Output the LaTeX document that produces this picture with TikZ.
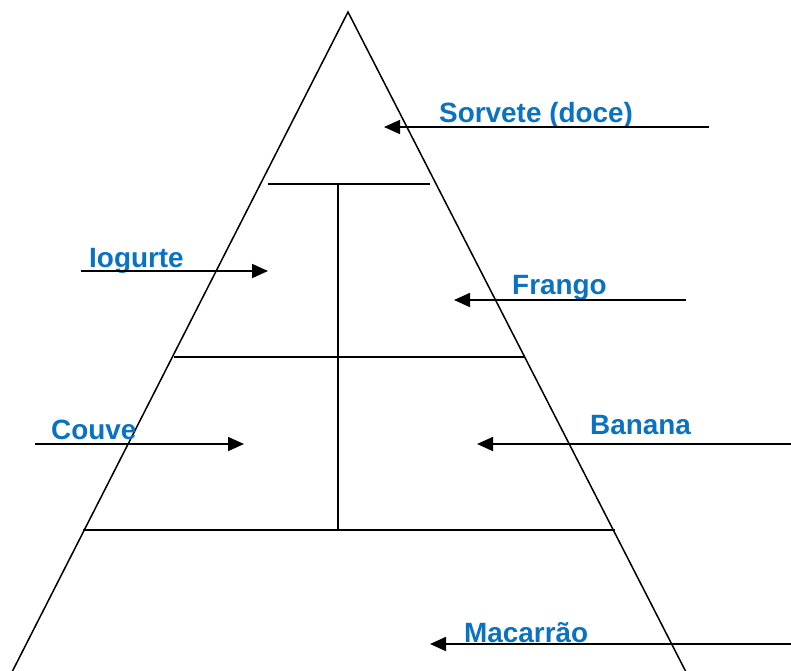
\documentclass[tikz,border=0pt]{standalone}
\usepackage{fontspec}
\setmainfont{Liberation Sans}
\usetikzlibrary{arrows.meta}
\definecolor{labelblue}{HTML}{0A72C2}
\tikzset{
  edge/.style={line width=1.5pt, black},
  pointer/.style={line width=1.7pt, black, -{Triangle[length=16pt,width=14pt]}},
  lbl/.style={anchor=base west, inner sep=0pt, text=labelblue, font=\fontsize{27.9pt}{30pt}\selectfont\bfseries}
}
\begin{document}
\begin{tikzpicture}[x=1pt,y=-1pt]
\useasboundingbox (0,0) rectangle (791,670);
% pyramid
\coordinate (apex) at (348,12);
\coordinate (bl) at (12,672);
\coordinate (br) at (686,672);
\draw[edge] (bl) -- (apex) -- (br);
% horizontal levels
\coordinate (t1l) at (268,184); \coordinate (t1r) at (430,184);
\coordinate (t2l) at (174,357); \coordinate (t2r) at (524,357);
\coordinate (t3l) at (83,530);  \coordinate (t3r) at (615,530);
\draw[edge] (t1l) -- (t1r);
\draw[edge] (t2l) -- (t2r);
\draw[edge] (t3l) -- (t3r);
\coordinate (vt) at (338,184); \coordinate (vb) at (338,530);
\draw[edge] (vt) -- (vb);
% labels
\node[lbl] (sorvete) at (439,122) {Sorvete (doce)};
\node[lbl] (iogurte) at (89,267) {Iogurte};
\node[lbl] (frango) at (512,294) {Frango};
\node[lbl] (couve) at (51,439) {Couve};
\node[lbl] (banana) at (590,434) {Banana};
\node[lbl] (macarrao) at (464,642) {Macarrão};
% arrows
\coordinate (a1s) at (709,127); \coordinate (a1e) at (384,127);
\coordinate (a2s) at (81,271);  \coordinate (a2e) at (268,271);
\coordinate (a3s) at (686,300); \coordinate (a3e) at (454,300);
\coordinate (a4s) at (35,444);  \coordinate (a4e) at (244,444);
\coordinate (a5s) at (792,444); \coordinate (a5e) at (477,444);
\coordinate (a6s) at (792,644); \coordinate (a6e) at (430,644);
\draw[pointer] (a1s) -- (a1e);
\draw[pointer] (a2s) -- (a2e);
\draw[pointer] (a3s) -- (a3e);
\draw[pointer] (a4s) -- (a4e);
\draw[pointer] (a5s) -- (a5e);
\draw[pointer] (a6s) -- (a6e);
\end{tikzpicture}
\end{document}
